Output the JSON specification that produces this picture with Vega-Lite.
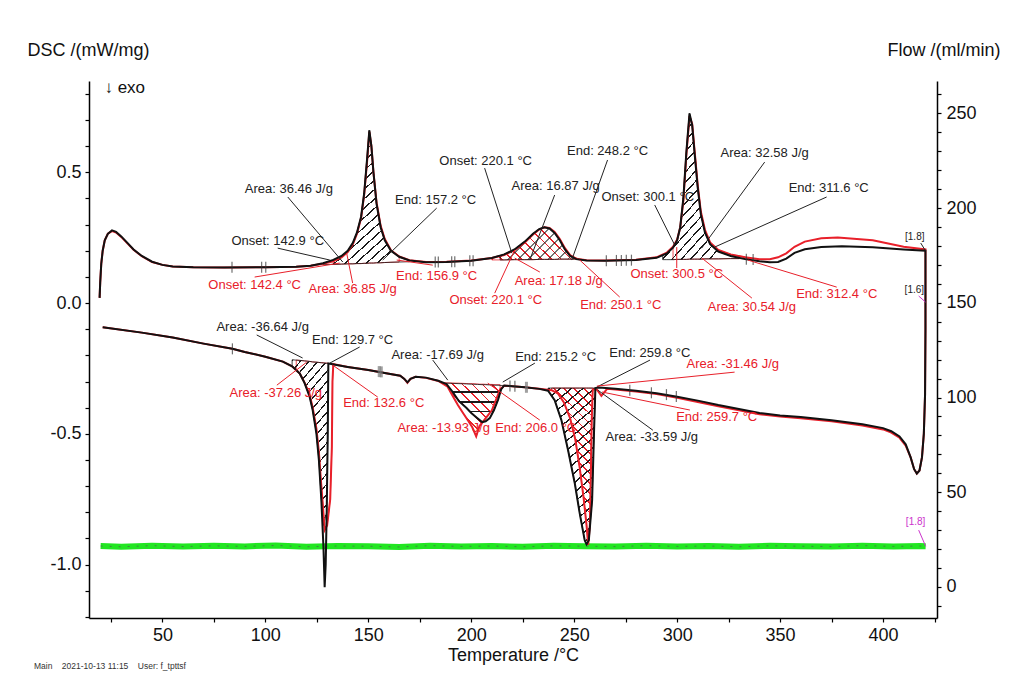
{
"$schema": "https://vega.github.io/schema/vega-lite/v6.json",
"width": 848, "height": 537,
"autosize": {"type": "none"},
"padding": {"left": 89, "top": 81, "right": 73, "bottom": 62},
"background": "white",
"config": {
 "view": {"stroke": null},
 "font": "Liberation Sans",
 "axis": {"domainColor": "#000", "domainWidth": 1.5, "tickColor": "#000", "tickWidth": 1.2, "tickSize": 4, "labelFont": "Liberation Sans", "labelFontSize": 18, "labelColor": "#111", "titleFont": "Liberation Sans", "titleFontSize": 18, "titleFontWeight": "normal", "titleColor": "#111", "grid": false, "labelPadding": 4}
},
"title": {"text": "Main\u00a0\u00a0\u00a0\u00a02021-10-13 11:15\u00a0\u00a0\u00a0\u00a0User: f_tpttsf", "orient": "bottom", "anchor": "start", "frame": "group", "fontSize": 8.5, "fontWeight": "normal", "font": "Liberation Sans", "color": "#333", "dx": -55, "offset": -2},
"encoding": {
 "x": {"field": "t", "type": "quantitative", "title": "Temperature /°C", "scale": {"domain": [14.35, 426.2], "nice": false, "zero": false},
  "axis": {"values": [25,50,75,100,125,150,175,200,225,250,275,300,325,350,375,400,425], "labelExpr": "datum.value % 50 == 0 ? datum.label : ''", "labelOverlap": false, "labelFlush": false, "titleY": 37, "titleBaseline": "middle"}}
},
"datasets": {
 "curve": [
  {"r":"B","i":1,"t":19.5,"v":0.02},{"r":"B","i":2,"t":19.8,"v":0.08},{"r":"B","i":3,"t":20.3,"v":0.15},{"r":"B","i":4,"t":21,"v":0.2},{"r":"B","i":5,"t":22,"v":0.24},{"r":"B","i":6,"t":23.5,"v":0.265},{"r":"B","i":7,"t":25.5,"v":0.278},{"r":"B","i":8,"t":27.5,"v":0.272},{"r":"B","i":9,"t":30,"v":0.255},{"r":"B","i":10,"t":33,"v":0.23},
  {"r":"B","i":11,"t":36,"v":0.205},{"r":"B","i":12,"t":40,"v":0.18},{"r":"B","i":13,"t":45,"v":0.158},{"r":"B","i":14,"t":50,"v":0.146},{"r":"B","i":15,"t":55,"v":0.14},{"r":"B","i":16,"t":65,"v":0.137},{"r":"B","i":17,"t":80,"v":0.136},{"r":"B","i":18,"t":100,"v":0.137},{"r":"B","i":19,"t":115,"v":0.139},{"r":"B","i":20,"t":122,"v":0.143},
  {"r":"B","i":21,"t":128,"v":0.152},{"r":"B","i":22,"t":133,"v":0.165},{"r":"B","i":23,"t":137,"v":0.18},{"r":"B","i":24,"t":140,"v":0.2},{"r":"B","i":25,"t":142.5,"v":0.23},{"r":"B","i":26,"t":144.5,"v":0.27},{"r":"B","i":27,"t":146.5,"v":0.33},{"r":"B","i":28,"t":148,"v":0.42},{"r":"B","i":29,"t":149.5,"v":0.56},{"r":"B","i":30,"t":150.5,"v":0.66},
  {"r":"B","i":31,"t":151.5,"v":0.6},{"r":"B","i":32,"t":152.5,"v":0.5},{"r":"B","i":33,"t":154,"v":0.38},{"r":"B","i":34,"t":156,"v":0.29},{"r":"B","i":35,"t":158,"v":0.24},{"r":"B","i":36,"t":161,"v":0.2},{"r":"B","i":37,"t":165,"v":0.177},{"r":"B","i":38,"t":170,"v":0.163},{"r":"B","i":39,"t":178,"v":0.156},{"r":"B","i":40,"t":188,"v":0.157},
  {"r":"B","i":41,"t":200,"v":0.162},{"r":"B","i":42,"t":210,"v":0.172},{"r":"B","i":43,"t":216,"v":0.186},{"r":"B","i":44,"t":221,"v":0.205},{"r":"B","i":45,"t":226,"v":0.235},{"r":"B","i":46,"t":230,"v":0.265},{"r":"B","i":47,"t":233,"v":0.283},{"r":"B","i":48,"t":235.5,"v":0.29},{"r":"B","i":49,"t":238,"v":0.285},{"r":"B","i":50,"t":240.5,"v":0.268},
  {"r":"B","i":51,"t":243,"v":0.24},{"r":"B","i":52,"t":245.5,"v":0.205},{"r":"B","i":53,"t":248,"v":0.18},{"r":"B","i":54,"t":251,"v":0.168},{"r":"B","i":55,"t":256,"v":0.163},{"r":"B","i":56,"t":265,"v":0.162},{"r":"B","i":57,"t":280,"v":0.165},{"r":"B","i":58,"t":290,"v":0.173},{"r":"B","i":59,"t":295,"v":0.19},{"r":"B","i":60,"t":298,"v":0.212},
  {"r":"B","i":61,"t":300,"v":0.24},{"r":"B","i":62,"t":301.5,"v":0.29},{"r":"B","i":63,"t":303,"v":0.4},{"r":"B","i":64,"t":304.5,"v":0.58},{"r":"B","i":65,"t":306,"v":0.725},{"r":"B","i":66,"t":307.3,"v":0.68},{"r":"B","i":67,"t":308.5,"v":0.57},{"r":"B","i":68,"t":310,"v":0.44},{"r":"B","i":69,"t":311.5,"v":0.34},{"r":"B","i":70,"t":313.5,"v":0.27},
  {"r":"B","i":71,"t":316,"v":0.225},{"r":"B","i":72,"t":320,"v":0.197},{"r":"B","i":73,"t":326,"v":0.18},{"r":"B","i":74,"t":333,"v":0.168},{"r":"B","i":75,"t":340,"v":0.16},{"r":"B","i":76,"t":345,"v":0.156},{"r":"B","i":77,"t":349,"v":0.157},{"r":"B","i":78,"t":353,"v":0.17},{"r":"B","i":79,"t":357,"v":0.192},{"r":"B","i":80,"t":362,"v":0.206},
  {"r":"B","i":81,"t":370,"v":0.214},{"r":"B","i":82,"t":380,"v":0.217},{"r":"B","i":83,"t":395,"v":0.213},{"r":"B","i":84,"t":410,"v":0.205},{"r":"B","i":85,"t":420.6,"v":0.2},
  {"r":"B","i":86,"t":420.6,"v":0.2},{"r":"B","i":87,"t":420.6,"v":-0.1},{"r":"B","i":88,"t":420.4,"v":-0.35},{"r":"B","i":89,"t":419.8,"v":-0.5},{"r":"B","i":90,"t":418.9,"v":-0.59},{"r":"B","i":91,"t":417.7,"v":-0.64},{"r":"B","i":92,"t":416.4,"v":-0.652},{"r":"B","i":93,"t":415.1,"v":-0.635},{"r":"B","i":94,"t":413.4,"v":-0.59},{"r":"B","i":95,"t":411,"v":-0.54},
  {"r":"B","i":96,"t":408,"v":-0.51},{"r":"B","i":97,"t":404,"v":-0.49},{"r":"B","i":98,"t":400,"v":-0.478},{"r":"B","i":99,"t":390,"v":-0.463},{"r":"B","i":100,"t":375,"v":-0.448},{"r":"B","i":101,"t":360,"v":-0.436},{"r":"B","i":102,"t":350,"v":-0.43},{"r":"B","i":103,"t":340,"v":-0.42},{"r":"B","i":104,"t":330,"v":-0.405},{"r":"B","i":105,"t":320,"v":-0.39},
  {"r":"B","i":106,"t":310,"v":-0.373},{"r":"B","i":107,"t":300,"v":-0.358},{"r":"B","i":108,"t":290,"v":-0.345},{"r":"B","i":109,"t":280,"v":-0.335},{"r":"B","i":110,"t":270,"v":-0.328},{"r":"B","i":111,"t":262,"v":-0.323},{"r":"B","i":112,"t":260.3,"v":-0.325},{"r":"B","i":113,"t":259.6,"v":-0.5},{"r":"B","i":114,"t":258.7,"v":-0.755},{"r":"B","i":115,"t":257.1,"v":-0.907},
  {"r":"B","i":116,"t":256,"v":-0.922},{"r":"B","i":117,"t":255.1,"v":-0.907},{"r":"B","i":118,"t":252.7,"v":-0.805},{"r":"B","i":119,"t":250.3,"v":-0.69},{"r":"B","i":120,"t":247,"v":-0.562},{"r":"B","i":121,"t":243.8,"v":-0.448},{"r":"B","i":122,"t":240.5,"v":-0.371},{"r":"B","i":123,"t":237.3,"v":-0.335},{"r":"B","i":124,"t":233,"v":-0.328},{"r":"B","i":125,"t":226,"v":-0.322},
  {"r":"B","i":126,"t":220,"v":-0.318},{"r":"B","i":127,"t":216,"v":-0.315},{"r":"B","i":128,"t":214.5,"v":-0.33},{"r":"B","i":129,"t":213,"v":-0.37},{"r":"B","i":130,"t":211,"v":-0.41},{"r":"B","i":131,"t":209,"v":-0.44},{"r":"B","i":132,"t":207,"v":-0.452},{"r":"B","i":133,"t":205.3,"v":-0.455},{"r":"B","i":134,"t":203,"v":-0.44},{"r":"B","i":135,"t":200,"v":-0.42},
  {"r":"B","i":136,"t":197.6,"v":-0.4},{"r":"B","i":137,"t":194,"v":-0.375},{"r":"B","i":138,"t":191,"v":-0.34},{"r":"B","i":139,"t":188,"v":-0.31},{"r":"B","i":140,"t":184,"v":-0.297},{"r":"B","i":141,"t":178,"v":-0.285},{"r":"B","i":142,"t":173,"v":-0.282},{"r":"B","i":143,"t":170.5,"v":-0.29},{"r":"B","i":144,"t":169,"v":-0.303},{"r":"B","i":145,"t":167.5,"v":-0.29},
  {"r":"B","i":146,"t":165.5,"v":-0.278},{"r":"B","i":147,"t":160,"v":-0.27},{"r":"B","i":148,"t":150,"v":-0.256},{"r":"B","i":149,"t":140,"v":-0.244},{"r":"B","i":150,"t":132,"v":-0.233},{"r":"B","i":151,"t":130.6,"v":-0.231},{"r":"B","i":152,"t":130.3,"v":-0.5},{"r":"B","i":153,"t":129.8,"v":-0.8},{"r":"B","i":154,"t":129.3,"v":-1.0},{"r":"B","i":155,"t":128.8,"v":-1.086},
  {"r":"B","i":156,"t":128.2,"v":-0.93},{"r":"B","i":157,"t":127.2,"v":-0.754},{"r":"B","i":158,"t":126,"v":-0.6},{"r":"B","i":159,"t":124.8,"v":-0.499},{"r":"B","i":160,"t":123,"v":-0.41},{"r":"B","i":161,"t":121.5,"v":-0.358},{"r":"B","i":162,"t":119,"v":-0.305},{"r":"B","i":163,"t":116.7,"v":-0.269},{"r":"B","i":164,"t":113,"v":-0.242},{"r":"B","i":165,"t":108.5,"v":-0.224},
  {"r":"B","i":166,"t":100,"v":-0.205},{"r":"B","i":167,"t":90,"v":-0.187},{"r":"B","i":168,"t":84,"v":-0.175},{"r":"B","i":169,"t":70,"v":-0.155},{"r":"B","i":170,"t":55,"v":-0.132},{"r":"B","i":171,"t":40,"v":-0.113},{"r":"B","i":172,"t":21,"v":-0.092},

  {"r":"R","i":1,"t":19.5,"v":0.02},{"r":"R","i":2,"t":19.8,"v":0.08},{"r":"R","i":3,"t":20.3,"v":0.15},{"r":"R","i":4,"t":21,"v":0.2},{"r":"R","i":5,"t":22,"v":0.24},{"r":"R","i":6,"t":23.5,"v":0.265},{"r":"R","i":7,"t":25.5,"v":0.275},{"r":"R","i":8,"t":27.5,"v":0.27},{"r":"R","i":9,"t":30,"v":0.253},{"r":"R","i":10,"t":33,"v":0.228},
  {"r":"R","i":11,"t":36,"v":0.204},{"r":"R","i":12,"t":40,"v":0.179},{"r":"R","i":13,"t":45,"v":0.157},{"r":"R","i":14,"t":50,"v":0.146},{"r":"R","i":15,"t":55,"v":0.14},{"r":"R","i":16,"t":65,"v":0.137},{"r":"R","i":17,"t":80,"v":0.136},{"r":"R","i":18,"t":100,"v":0.137},{"r":"R","i":19,"t":115,"v":0.139},{"r":"R","i":20,"t":122,"v":0.143},
  {"r":"R","i":21,"t":128,"v":0.15},{"r":"R","i":22,"t":133,"v":0.16},{"r":"R","i":23,"t":137,"v":0.175},{"r":"R","i":24,"t":140,"v":0.195},{"r":"R","i":25,"t":142.5,"v":0.225},{"r":"R","i":26,"t":144.5,"v":0.265},{"r":"R","i":27,"t":146.5,"v":0.325},{"r":"R","i":28,"t":148,"v":0.415},{"r":"R","i":29,"t":149.5,"v":0.55},{"r":"R","i":30,"t":150.5,"v":0.655},
  {"r":"R","i":31,"t":151.5,"v":0.6},{"r":"R","i":32,"t":152.5,"v":0.5},{"r":"R","i":33,"t":154,"v":0.385},{"r":"R","i":34,"t":156,"v":0.295},{"r":"R","i":35,"t":158,"v":0.245},{"r":"R","i":36,"t":161,"v":0.202},{"r":"R","i":37,"t":165,"v":0.178},{"r":"R","i":38,"t":170,"v":0.164},{"r":"R","i":39,"t":178,"v":0.157},{"r":"R","i":40,"t":188,"v":0.158},
  {"r":"R","i":41,"t":200,"v":0.163},{"r":"R","i":42,"t":210,"v":0.172},{"r":"R","i":43,"t":216,"v":0.184},{"r":"R","i":44,"t":221,"v":0.202},{"r":"R","i":45,"t":226,"v":0.232},{"r":"R","i":46,"t":230,"v":0.262},{"r":"R","i":47,"t":233,"v":0.281},{"r":"R","i":48,"t":235.5,"v":0.29},{"r":"R","i":49,"t":238,"v":0.287},{"r":"R","i":50,"t":240.5,"v":0.272},
  {"r":"R","i":51,"t":243,"v":0.245},{"r":"R","i":52,"t":245.5,"v":0.21},{"r":"R","i":53,"t":248,"v":0.183},{"r":"R","i":54,"t":251,"v":0.169},{"r":"R","i":55,"t":256,"v":0.164},{"r":"R","i":56,"t":265,"v":0.163},{"r":"R","i":57,"t":280,"v":0.166},{"r":"R","i":58,"t":290,"v":0.175},{"r":"R","i":59,"t":295,"v":0.193},{"r":"R","i":60,"t":298,"v":0.215},
  {"r":"R","i":61,"t":300,"v":0.243},{"r":"R","i":62,"t":301.5,"v":0.29},{"r":"R","i":63,"t":303,"v":0.39},{"r":"R","i":64,"t":304.5,"v":0.57},{"r":"R","i":65,"t":306,"v":0.715},{"r":"R","i":66,"t":307.3,"v":0.685},{"r":"R","i":67,"t":308.5,"v":0.58},{"r":"R","i":68,"t":310,"v":0.45},{"r":"R","i":69,"t":311.5,"v":0.35},{"r":"R","i":70,"t":313.5,"v":0.28},
  {"r":"R","i":71,"t":316,"v":0.232},{"r":"R","i":72,"t":320,"v":0.203},{"r":"R","i":73,"t":326,"v":0.186},{"r":"R","i":74,"t":333,"v":0.175},{"r":"R","i":75,"t":340,"v":0.168},{"r":"R","i":76,"t":345,"v":0.168},{"r":"R","i":77,"t":349,"v":0.175},{"r":"R","i":78,"t":353,"v":0.19},{"r":"R","i":79,"t":357,"v":0.215},{"r":"R","i":80,"t":362,"v":0.235},
  {"r":"R","i":81,"t":370,"v":0.248},{"r":"R","i":82,"t":378,"v":0.251},{"r":"R","i":83,"t":395,"v":0.24},{"r":"R","i":84,"t":410,"v":0.215},{"r":"R","i":85,"t":420.6,"v":0.205},
  {"r":"R","i":86,"t":420.6,"v":0.205},{"r":"R","i":87,"t":420.6,"v":-0.1},{"r":"R","i":88,"t":420.4,"v":-0.35},{"r":"R","i":89,"t":419.8,"v":-0.5},{"r":"R","i":90,"t":418.9,"v":-0.59},{"r":"R","i":91,"t":417.7,"v":-0.64},{"r":"R","i":92,"t":416.4,"v":-0.652},{"r":"R","i":93,"t":415.1,"v":-0.635},{"r":"R","i":94,"t":413.4,"v":-0.59},{"r":"R","i":95,"t":411,"v":-0.545},
  {"r":"R","i":96,"t":408,"v":-0.515},{"r":"R","i":97,"t":404,"v":-0.495},{"r":"R","i":98,"t":400,"v":-0.483},{"r":"R","i":99,"t":390,"v":-0.468},{"r":"R","i":100,"t":375,"v":-0.452},{"r":"R","i":101,"t":360,"v":-0.44},{"r":"R","i":102,"t":350,"v":-0.434},{"r":"R","i":103,"t":340,"v":-0.425},{"r":"R","i":104,"t":330,"v":-0.41},{"r":"R","i":105,"t":320,"v":-0.395},
  {"r":"R","i":106,"t":310,"v":-0.378},{"r":"R","i":107,"t":300,"v":-0.362},{"r":"R","i":108,"t":290,"v":-0.348},{"r":"R","i":109,"t":280,"v":-0.338},{"r":"R","i":110,"t":270,"v":-0.33},{"r":"R","i":111,"t":266,"v":-0.328},{"r":"R","i":112,"t":263.2,"v":-0.355},{"r":"R","i":113,"t":261,"v":-0.33},{"r":"R","i":114,"t":259,"v":-0.33},{"r":"R","i":115,"t":258.5,"v":-0.45},
  {"r":"R","i":116,"t":258.2,"v":-0.6},{"r":"R","i":117,"t":257.6,"v":-0.85},{"r":"R","i":118,"t":256.8,"v":-0.925},{"r":"R","i":119,"t":256,"v":-0.85},{"r":"R","i":120,"t":254.5,"v":-0.74},{"r":"R","i":121,"t":252.5,"v":-0.62},{"r":"R","i":122,"t":250.5,"v":-0.52},{"r":"R","i":123,"t":248,"v":-0.44},{"r":"R","i":124,"t":245,"v":-0.38},{"r":"R","i":125,"t":242,"v":-0.345},
  {"r":"R","i":126,"t":239,"v":-0.333},{"r":"R","i":127,"t":233,"v":-0.328},{"r":"R","i":128,"t":226,"v":-0.322},{"r":"R","i":129,"t":220,"v":-0.318},{"r":"R","i":130,"t":216,"v":-0.316},{"r":"R","i":131,"t":214,"v":-0.33},{"r":"R","i":132,"t":212,"v":-0.37},{"r":"R","i":133,"t":210,"v":-0.41},{"r":"R","i":134,"t":208,"v":-0.43},{"r":"R","i":135,"t":206,"v":-0.45},
  {"r":"R","i":136,"t":204,"v":-0.47},{"r":"R","i":137,"t":202.4,"v":-0.51},{"r":"R","i":138,"t":200.5,"v":-0.475},{"r":"R","i":139,"t":198.5,"v":-0.45},{"r":"R","i":140,"t":196,"v":-0.42},{"r":"R","i":141,"t":193.5,"v":-0.39},{"r":"R","i":142,"t":191,"v":-0.355},{"r":"R","i":143,"t":188.5,"v":-0.32},{"r":"R","i":144,"t":184,"v":-0.298},{"r":"R","i":145,"t":178,"v":-0.286},
  {"r":"R","i":146,"t":173,"v":-0.282},{"r":"R","i":147,"t":170.5,"v":-0.29},{"r":"R","i":148,"t":169,"v":-0.305},{"r":"R","i":149,"t":167.5,"v":-0.29},{"r":"R","i":150,"t":165.5,"v":-0.278},{"r":"R","i":151,"t":160,"v":-0.27},{"r":"R","i":152,"t":150,"v":-0.256},{"r":"R","i":153,"t":140,"v":-0.244},{"r":"R","i":154,"t":134,"v":-0.235},{"r":"R","i":155,"t":133,"v":-0.233},
  {"r":"R","i":156,"t":132.6,"v":-0.3},{"r":"R","i":157,"t":132.3,"v":-0.55},{"r":"R","i":158,"t":131.5,"v":-0.75},{"r":"R","i":159,"t":130,"v":-0.85},{"r":"R","i":160,"t":128.8,"v":-0.868},{"r":"R","i":161,"t":128,"v":-0.78},{"r":"R","i":162,"t":127,"v":-0.68},{"r":"R","i":163,"t":126,"v":-0.57},{"r":"R","i":164,"t":124.8,"v":-0.48},{"r":"R","i":165,"t":123,"v":-0.4},
  {"r":"R","i":166,"t":121.5,"v":-0.35},{"r":"R","i":167,"t":119,"v":-0.303},{"r":"R","i":168,"t":116.7,"v":-0.269},{"r":"R","i":169,"t":113,"v":-0.242},{"r":"R","i":170,"t":108.5,"v":-0.224},{"r":"R","i":171,"t":100,"v":-0.205},{"r":"R","i":172,"t":90,"v":-0.187},{"r":"R","i":173,"t":84,"v":-0.175},{"r":"R","i":174,"t":70,"v":-0.155},{"r":"R","i":175,"t":55,"v":-0.132},
  {"r":"R","i":176,"t":40,"v":-0.113},{"r":"R","i":177,"t":21,"v":-0.092}
 ],
 "area": [
  {"g":"A1","r":"B","t":128,"v":0.152,"b":0.147},{"g":"A1","r":"B","t":133,"v":0.165,"b":0.148},{"g":"A1","r":"B","t":137,"v":0.18,"b":0.149},{"g":"A1","r":"B","t":140,"v":0.2,"b":0.15},{"g":"A1","r":"B","t":142.5,"v":0.23,"b":0.15},{"g":"A1","r":"B","t":144.5,"v":0.27,"b":0.151},{"g":"A1","r":"B","t":146.5,"v":0.33,"b":0.151},{"g":"A1","r":"B","t":148,"v":0.42,"b":0.152},{"g":"A1","r":"B","t":149.5,"v":0.56,"b":0.152},{"g":"A1","r":"B","t":150.5,"v":0.66,"b":0.153},{"g":"A1","r":"B","t":151.5,"v":0.6,"b":0.153},{"g":"A1","r":"B","t":152.5,"v":0.5,"b":0.153},{"g":"A1","r":"B","t":154,"v":0.38,"b":0.154},{"g":"A1","r":"B","t":156,"v":0.29,"b":0.154},{"g":"A1","r":"B","t":158,"v":0.24,"b":0.155},{"g":"A1","r":"B","t":161,"v":0.2,"b":0.156},{"g":"A1","r":"B","t":165,"v":0.177,"b":0.157},{"g":"A1","r":"B","t":170,"v":0.163,"b":0.158},
  {"g":"A1","r":"R","t":133,"v":0.16,"b":0.148},{"g":"A1","r":"R","t":137,"v":0.175,"b":0.149},{"g":"A1","r":"R","t":140,"v":0.195,"b":0.15},{"g":"A1","r":"R","t":142.5,"v":0.225,"b":0.15},{"g":"A1","r":"R","t":144.5,"v":0.265,"b":0.151},{"g":"A1","r":"R","t":146.5,"v":0.325,"b":0.151},{"g":"A1","r":"R","t":148,"v":0.415,"b":0.152},{"g":"A1","r":"R","t":149.5,"v":0.55,"b":0.152},{"g":"A1","r":"R","t":150.5,"v":0.655,"b":0.153},{"g":"A1","r":"R","t":151.5,"v":0.6,"b":0.153},{"g":"A1","r":"R","t":152.5,"v":0.5,"b":0.153},{"g":"A1","r":"R","t":154,"v":0.385,"b":0.154},{"g":"A1","r":"R","t":156,"v":0.295,"b":0.154},{"g":"A1","r":"R","t":158,"v":0.245,"b":0.155},{"g":"A1","r":"R","t":161,"v":0.202,"b":0.156},{"g":"A1","r":"R","t":165,"v":0.178,"b":0.157},
  {"g":"A2","r":"B","t":214,"v":0.18,"b":0.165},{"g":"A2","r":"B","t":216,"v":0.186,"b":0.165},{"g":"A2","r":"B","t":221,"v":0.205,"b":0.166},{"g":"A2","r":"B","t":226,"v":0.235,"b":0.166},{"g":"A2","r":"B","t":230,"v":0.265,"b":0.166},{"g":"A2","r":"B","t":233,"v":0.283,"b":0.167},{"g":"A2","r":"B","t":235.5,"v":0.29,"b":0.167},{"g":"A2","r":"B","t":238,"v":0.285,"b":0.167},{"g":"A2","r":"B","t":240.5,"v":0.268,"b":0.167},{"g":"A2","r":"B","t":243,"v":0.24,"b":0.168},{"g":"A2","r":"B","t":245.5,"v":0.205,"b":0.168},{"g":"A2","r":"B","t":248,"v":0.18,"b":0.168},{"g":"A2","r":"B","t":250,"v":0.17,"b":0.168},
  {"g":"A2","r":"R","t":210,"v":0.172,"b":0.165},{"g":"A2","r":"R","t":216,"v":0.184,"b":0.165},{"g":"A2","r":"R","t":221,"v":0.202,"b":0.166},{"g":"A2","r":"R","t":226,"v":0.232,"b":0.166},{"g":"A2","r":"R","t":230,"v":0.262,"b":0.166},{"g":"A2","r":"R","t":233,"v":0.281,"b":0.167},{"g":"A2","r":"R","t":235.5,"v":0.29,"b":0.167},{"g":"A2","r":"R","t":238,"v":0.287,"b":0.167},{"g":"A2","r":"R","t":240.5,"v":0.272,"b":0.167},{"g":"A2","r":"R","t":243,"v":0.245,"b":0.168},{"g":"A2","r":"R","t":245.5,"v":0.21,"b":0.168},{"g":"A2","r":"R","t":248,"v":0.183,"b":0.168},{"g":"A2","r":"R","t":252,"v":0.169,"b":0.168},
  {"g":"A3","r":"B","t":293,"v":0.183,"b":0.166},{"g":"A3","r":"B","t":295,"v":0.19,"b":0.166},{"g":"A3","r":"B","t":298,"v":0.212,"b":0.166},{"g":"A3","r":"B","t":300,"v":0.24,"b":0.167},{"g":"A3","r":"B","t":301.5,"v":0.29,"b":0.167},{"g":"A3","r":"B","t":303,"v":0.4,"b":0.167},{"g":"A3","r":"B","t":304.5,"v":0.58,"b":0.167},{"g":"A3","r":"B","t":306,"v":0.725,"b":0.168},{"g":"A3","r":"B","t":307.3,"v":0.68,"b":0.168},{"g":"A3","r":"B","t":308.5,"v":0.57,"b":0.168},{"g":"A3","r":"B","t":310,"v":0.44,"b":0.168},{"g":"A3","r":"B","t":311.5,"v":0.34,"b":0.168},{"g":"A3","r":"B","t":313.5,"v":0.27,"b":0.169},{"g":"A3","r":"B","t":316,"v":0.225,"b":0.169},{"g":"A3","r":"B","t":320,"v":0.197,"b":0.169},{"g":"A3","r":"B","t":326,"v":0.18,"b":0.17},{"g":"A3","r":"B","t":330,"v":0.174,"b":0.17},
  {"g":"A3","r":"R","t":298,"v":0.215,"b":0.166},{"g":"A3","r":"R","t":300,"v":0.243,"b":0.167},{"g":"A3","r":"R","t":301.5,"v":0.29,"b":0.167},{"g":"A3","r":"R","t":303,"v":0.39,"b":0.167},{"g":"A3","r":"R","t":304.5,"v":0.57,"b":0.167},{"g":"A3","r":"R","t":306,"v":0.715,"b":0.168},{"g":"A3","r":"R","t":307.3,"v":0.685,"b":0.168},{"g":"A3","r":"R","t":308.5,"v":0.58,"b":0.168},{"g":"A3","r":"R","t":310,"v":0.45,"b":0.168},{"g":"A3","r":"R","t":311.5,"v":0.35,"b":0.168},{"g":"A3","r":"R","t":313.5,"v":0.28,"b":0.169},{"g":"A3","r":"R","t":316,"v":0.232,"b":0.169},{"g":"A3","r":"R","t":320,"v":0.203,"b":0.169},{"g":"A3","r":"R","t":326,"v":0.186,"b":0.17},{"g":"A3","r":"R","t":335,"v":0.173,"b":0.17},
  {"g":"B1","r":"B","t":113,"v":-0.242,"b":-0.217},{"g":"B1","r":"B","t":116.7,"v":-0.269,"b":-0.219},{"g":"B1","r":"B","t":119,"v":-0.305,"b":-0.221},{"g":"B1","r":"B","t":121.5,"v":-0.358,"b":-0.223},{"g":"B1","r":"B","t":123,"v":-0.41,"b":-0.225},{"g":"B1","r":"B","t":124.8,"v":-0.499,"b":-0.226},{"g":"B1","r":"B","t":126,"v":-0.6,"b":-0.227},{"g":"B1","r":"B","t":127.2,"v":-0.754,"b":-0.228},{"g":"B1","r":"B","t":128.2,"v":-0.85,"b":-0.229},{"g":"B1","r":"B","t":129.8,"v":-0.8,"b":-0.23},{"g":"B1","r":"B","t":130.3,"v":-0.5,"b":-0.231},{"g":"B1","r":"B","t":130.6,"v":-0.231,"b":-0.231},
  {"g":"B1","r":"R","t":115,"v":-0.25,"b":-0.218},{"g":"B1","r":"R","t":119,"v":-0.303,"b":-0.221},{"g":"B1","r":"R","t":121.5,"v":-0.35,"b":-0.223},{"g":"B1","r":"R","t":123,"v":-0.4,"b":-0.225},{"g":"B1","r":"R","t":124.8,"v":-0.48,"b":-0.226},{"g":"B1","r":"R","t":126,"v":-0.57,"b":-0.227},{"g":"B1","r":"R","t":127,"v":-0.68,"b":-0.228},{"g":"B1","r":"R","t":128,"v":-0.78,"b":-0.228},{"g":"B1","r":"R","t":128.8,"v":-0.868,"b":-0.229},{"g":"B1","r":"R","t":130,"v":-0.85,"b":-0.23},{"g":"B1","r":"R","t":131.5,"v":-0.75,"b":-0.231},{"g":"B1","r":"R","t":132.3,"v":-0.55,"b":-0.232},{"g":"B1","r":"R","t":132.6,"v":-0.3,"b":-0.232},{"g":"B1","r":"R","t":133,"v":-0.233,"b":-0.232},
  {"g":"B2","r":"B","t":188,"v":-0.31,"b":-0.306},{"g":"B2","r":"B","t":191,"v":-0.34,"b":-0.307},{"g":"B2","r":"B","t":194,"v":-0.375,"b":-0.308},{"g":"B2","r":"B","t":197.6,"v":-0.4,"b":-0.309},{"g":"B2","r":"B","t":200,"v":-0.42,"b":-0.31},{"g":"B2","r":"B","t":203,"v":-0.44,"b":-0.311},{"g":"B2","r":"B","t":205.3,"v":-0.455,"b":-0.312},{"g":"B2","r":"B","t":207,"v":-0.452,"b":-0.312},{"g":"B2","r":"B","t":209,"v":-0.44,"b":-0.313},{"g":"B2","r":"B","t":211,"v":-0.41,"b":-0.314},{"g":"B2","r":"B","t":213,"v":-0.37,"b":-0.314},{"g":"B2","r":"B","t":214.5,"v":-0.33,"b":-0.315},{"g":"B2","r":"B","t":216,"v":-0.315,"b":-0.315},
  {"g":"B2","r":"R","t":187,"v":-0.31,"b":-0.304},{"g":"B2","r":"R","t":188.5,"v":-0.32,"b":-0.305},{"g":"B2","r":"R","t":191,"v":-0.355,"b":-0.306},{"g":"B2","r":"R","t":193.5,"v":-0.39,"b":-0.306},{"g":"B2","r":"R","t":196,"v":-0.42,"b":-0.307},{"g":"B2","r":"R","t":198.5,"v":-0.45,"b":-0.308},{"g":"B2","r":"R","t":200.5,"v":-0.475,"b":-0.308},{"g":"B2","r":"R","t":202.4,"v":-0.51,"b":-0.309},{"g":"B2","r":"R","t":204,"v":-0.47,"b":-0.31},{"g":"B2","r":"R","t":206,"v":-0.45,"b":-0.31},{"g":"B2","r":"R","t":208,"v":-0.43,"b":-0.311},{"g":"B2","r":"R","t":210,"v":-0.41,"b":-0.311},{"g":"B2","r":"R","t":212,"v":-0.37,"b":-0.312},{"g":"B2","r":"R","t":214,"v":-0.33,"b":-0.312},
  {"g":"B3","r":"B","t":237.3,"v":-0.335,"b":-0.325},{"g":"B3","r":"B","t":240.5,"v":-0.371,"b":-0.325},{"g":"B3","r":"B","t":243.8,"v":-0.448,"b":-0.325},{"g":"B3","r":"B","t":247,"v":-0.562,"b":-0.325},{"g":"B3","r":"B","t":250.3,"v":-0.69,"b":-0.325},{"g":"B3","r":"B","t":252.7,"v":-0.805,"b":-0.325},{"g":"B3","r":"B","t":255.1,"v":-0.907,"b":-0.325},{"g":"B3","r":"B","t":256,"v":-0.922,"b":-0.325},{"g":"B3","r":"B","t":257.1,"v":-0.907,"b":-0.325},{"g":"B3","r":"B","t":258.7,"v":-0.755,"b":-0.325},{"g":"B3","r":"B","t":259.6,"v":-0.5,"b":-0.325},{"g":"B3","r":"B","t":260.3,"v":-0.325,"b":-0.325},
  {"g":"B3","r":"R","t":239,"v":-0.333,"b":-0.325},{"g":"B3","r":"R","t":242,"v":-0.345,"b":-0.325},{"g":"B3","r":"R","t":245,"v":-0.38,"b":-0.325},{"g":"B3","r":"R","t":248,"v":-0.44,"b":-0.325},{"g":"B3","r":"R","t":250.5,"v":-0.52,"b":-0.325},{"g":"B3","r":"R","t":252.5,"v":-0.62,"b":-0.325},{"g":"B3","r":"R","t":254.5,"v":-0.74,"b":-0.325},{"g":"B3","r":"R","t":256,"v":-0.85,"b":-0.325},{"g":"B3","r":"R","t":256.8,"v":-0.925,"b":-0.325},{"g":"B3","r":"R","t":257.6,"v":-0.85,"b":-0.325},{"g":"B3","r":"R","t":258.2,"v":-0.6,"b":-0.325},{"g":"B3","r":"R","t":258.5,"v":-0.45,"b":-0.325},{"g":"B3","r":"R","t":259,"v":-0.33,"b":-0.325}
 ],
 "labels": [
  {"r":"B","t":111.4,"v":0.436,"label":"Area: 36.46 J/g"},
  {"r":"B","t":106.0,"v":0.237,"label":"Onset: 142.9 °C"},
  {"r":"B","t":182.7,"v":0.394,"label":"End: 157.2 °C"},
  {"r":"B","t":207.0,"v":0.543,"label":"Onset: 220.1 °C"},
  {"r":"B","t":266.2,"v":0.5815,"label":"End: 248.2 °C"},
  {"r":"B","t":241.0,"v":0.4476,"label":"Area: 16.87 J/g"},
  {"r":"B","t":285.7,"v":0.4055,"label":"Onset: 300.1 °C"},
  {"r":"B","t":342.5,"v":0.5738,"label":"Area: 32.58 J/g"},
  {"r":"B","t":373.6,"v":0.44,"label":"End: 311.6 °C"},
  {"r":"B","t":98.7,"v":-0.0918,"label":"Area: -36.64 J/g"},
  {"r":"B","t":142.4,"v":-0.1415,"label":"End: 129.7 °C"},
  {"r":"B","t":183.7,"v":-0.199,"label":"Area: -17.69 J/g"},
  {"r":"B","t":241.0,"v":-0.2066,"label":"End: 215.2 °C"},
  {"r":"B","t":286.7,"v":-0.1913,"label":"End: 259.8 °C"},
  {"r":"B","t":287.7,"v":-0.5126,"label":"Area: -33.59 J/g"},
  {"r":"R","t":94.8,"v":0.0689,"label":"Onset: 142.4 °C"},
  {"r":"R","t":142.4,"v":0.0536,"label":"Area: 36.85 J/g"},
  {"r":"R","t":183.2,"v":0.1033,"label":"End: 156.9 °C"},
  {"r":"R","t":211.9,"v":0.0115,"label":"Onset: 220.1 °C"},
  {"r":"R","t":242.5,"v":0.0842,"label":"Area: 17.18 J/g"},
  {"r":"R","t":272.6,"v":-0.0077,"label":"End: 250.1 °C"},
  {"r":"R","t":299.8,"v":0.111,"label":"Onset: 300.5 °C"},
  {"r":"R","t":336.3,"v":-0.0153,"label":"Area: 30.54 J/g"},
  {"r":"R","t":377.5,"v":0.0344,"label":"End: 312.4 °C"},
  {"r":"R","t":105.1,"v":-0.3443,"label":"Area: -37.26 J/g"},
  {"r":"R","t":157.5,"v":-0.3826,"label":"End: 132.6 °C"},
  {"r":"R","t":186.6,"v":-0.4782,"label":"Area: -13.93 J/g"},
  {"r":"R","t":231.3,"v":-0.4782,"label":"End: 206.0 °C"},
  {"r":"R","t":327.0,"v":-0.2334,"label":"Area: -31.46 J/g"},
  {"r":"R","t":319.2,"v":-0.4361,"label":"End: 259.7 °C"}
 ],
 "leaders": [
  {"r":"B","t":110.9,"v":0.4055,"t2":137.6,"v2":0.157},
  {"r":"B","t":106.0,"v":0.21,"t2":131.3,"v2":0.1645},
  {"r":"B","t":183.2,"v":0.363,"t2":157.0,"v2":0.1645},
  {"r":"B","t":206.5,"v":0.516,"t2":219.7,"v2":0.191},
  {"r":"B","t":266.2,"v":0.547,"t2":248.8,"v2":0.1645},
  {"r":"B","t":240.5,"v":0.413,"t2":228.4,"v2":0.1645},
  {"r":"B","t":289.1,"v":0.375,"t2":298.8,"v2":0.222},
  {"r":"B","t":342.5,"v":0.539,"t2":311.9,"v2":0.21},
  {"r":"B","t":372.6,"v":0.4055,"t2":318.2,"v2":0.214},
  {"r":"B","t":95.8,"v":-0.122,"t2":118.1,"v2":-0.21},
  {"r":"B","t":145.8,"v":-0.168,"t2":131.3,"v2":-0.2295},
  {"r":"B","t":181.3,"v":-0.218,"t2":188.6,"v2":-0.2946},
  {"r":"B","t":230.9,"v":-0.2295,"t2":215.3,"v2":-0.302},
  {"r":"B","t":286.8,"v":-0.218,"t2":261.0,"v2":-0.321},
  {"r":"B","t":288.2,"v":-0.486,"t2":261.5,"v2":-0.333},
  {"r":"R","t":94.8,"v":0.0995,"t2":136.1,"v2":0.153},
  {"r":"R","t":142.4,"v":0.0765,"t2":139.5,"v2":0.191},
  {"r":"R","t":181.3,"v":0.145,"t2":163.8,"v2":0.1645},
  {"r":"R","t":211.4,"v":0.038,"t2":221.1,"v2":0.203},
  {"r":"R","t":233.3,"v":0.1186,"t2":221.1,"v2":0.172},
  {"r":"R","t":272.1,"v":0.023,"t2":252.7,"v2":0.1645},
  {"r":"R","t":299.8,"v":0.134,"t2":299.8,"v2":0.214},
  {"r":"R","t":336.3,"v":0.019,"t2":312.0,"v2":0.172},
  {"r":"R","t":377.5,"v":0.061,"t2":334.3,"v2":0.1645},
  {"r":"R","t":105.6,"v":-0.3137,"t2":120.1,"v2":-0.2257},
  {"r":"R","t":154.6,"v":-0.3596,"t2":132.7,"v2":-0.237},
  {"r":"R","t":208.0,"v":-0.306,"t2":233.3,"v2":-0.4476},
  {"r":"R","t":327.9,"v":-0.264,"t2":261.0,"v2":-0.3175},
  {"r":"R","t":306.2,"v":-0.409,"t2":263.5,"v2":-0.34},
  {"r":"B","t":418.3,"v":0.2295,"t2":420.6,"v2":0.2},
  {"r":"M","t":417.3,"v":0.027,"t2":420.6,"v2":0.004},
  {"r":"M","t":417.3,"v":-0.868,"t2":420.7,"v2":-0.93}
 ],
 "tags": [
  {"r":"B","t":415.4,"v":0.2525,"label":"[1.8]"},
  {"r":"B","t":415.2,"v":0.05,"label":"[1.6]"},
  {"r":"M","t":415.8,"v":-0.838,"label":"[1.8]"}
 ],
 "ticks": [
  {"k":"m","t":83.8,"v":0.137},{"k":"m","t":98.2,"v":0.137},{"k":"m","t":100.2,"v":0.137},{"k":"m","t":182.5,"v":0.157},{"k":"m","t":184,"v":0.157},{"k":"m","t":190.5,"v":0.158},{"k":"m","t":192,"v":0.158},{"k":"m","t":199.3,"v":0.162},{"k":"m","t":200.9,"v":0.162},
  {"k":"m","t":265.6,"v":0.162},{"k":"m","t":270.5,"v":0.163},{"k":"m","t":272.9,"v":0.163},{"k":"m","t":275.3,"v":0.164},{"k":"m","t":277.8,"v":0.164},{"k":"m","t":333.6,"v":0.168},{"k":"m","t":336.9,"v":0.167},
  {"k":"m","t":84,"v":-0.175},{"k":"g","t":155.3,"v":-0.262},{"k":"g","t":156.3,"v":-0.263},{"k":"m","t":218.8,"v":-0.317},{"k":"m","t":221.2,"v":-0.318},{"k":"g","t":226.8,"v":-0.322},{"k":"m","t":277,"v":-0.333},{"k":"m","t":287.5,"v":-0.343},{"k":"m","t":294.8,"v":-0.35},{"k":"m","t":299.6,"v":-0.357}
 ],
 "flow": [
  {"t":20,"f":21.6},{"t":30,"f":21.2},{"t":45,"f":21.8},{"t":60,"f":21.3},{"t":75,"f":21.7},{"t":90,"f":21.4},{"t":105,"f":21.9},{"t":120,"f":21.2},{"t":135,"f":21.6},{"t":150,"f":21.5},{"t":165,"f":21.1},{"t":180,"f":21.8},{"t":195,"f":21.4},{"t":210,"f":21.6},{"t":225,"f":21.2},{"t":240,"f":21.7},{"t":255,"f":21.5},{"t":270,"f":21.3},{"t":285,"f":21.8},{"t":300,"f":21.4},{"t":315,"f":21.6},{"t":330,"f":21.2},{"t":345,"f":21.7},{"t":360,"f":21.5},{"t":375,"f":21.3},{"t":390,"f":21.8},{"t":405,"f":21.4},{"t":418,"f":21.6},{"t":420.7,"f":21.5}
 ]
},
"layer": [
 {"data": {"name": "flow"},
  "mark": {"type": "line", "color": "#22e622", "strokeWidth": 6},
  "encoding": {
   "y": {"field": "f", "type": "quantitative", "scale": {"domain": [-16.4, 267.1], "nice": false, "zero": false},
    "axis": {"orient": "right", "values": [-10,0,10,20,30,40,50,60,70,80,90,100,110,120,130,140,150,160,170,180,190,200,210,220,230,240,250,260], "labelExpr": "datum.value % 50 == 0 ? datum.label : ''", "labelOverlap": false, "labelFlush": false, "labelPadding": 5, "title": "Flow /(ml/min)", "titleAngle": 0, "titleAlign": "right", "titleBaseline": "middle", "titleX": 63, "titleY": -31}}
  }},
 {"data": {"name": "flow"},
  "mark": {"type": "line", "color": "#555555", "strokeWidth": 1, "strokeDash": [2, 7], "opacity": 0.7},
  "encoding": {
   "y": {"field": "f", "type": "quantitative", "scale": {"domain": [-16.4, 267.1], "nice": false, "zero": false}, "axis": null}
  }},
 {"data": {"name": "area"},
  "transform": [{"filter": "datum.r == 'R' && datum.g != 'A2' && datum.g != 'B2' && datum.g != 'B3'"}],
  "mark": {"type": "area", "stroke": "#e8202a", "strokeWidth": 0.8, "fill": "transparent"},
  "encoding": {
   "y": {"field": "v", "type": "quantitative", "scale": {"domain": [-1.204, 0.849], "nice": false, "zero": false},
    "axis": {"orient": "left", "values": [-1.2,-1.1,-1.0,-0.9,-0.8,-0.7,-0.6,-0.5,-0.4,-0.3,-0.2,-0.1,0,0.1,0.2,0.3,0.4,0.5,0.6,0.7,0.8], "labelExpr": "abs(datum.value*2 - round(datum.value*2)) < 0.001 ? replace(format(datum.value, '.1f'), '\u2212', '-') : ''", "labelOverlap": false, "labelFlush": false, "title": "DSC /(mW/mg)", "titleAngle": 0, "titleAlign": "left", "titleBaseline": "middle", "titleX": -62, "titleY": -31}},
   "y2": {"field": "b"},
   "detail": {"field": "g"}
  }},
 {"data": {"name": "area"},
  "transform": [{"filter": "datum.r == 'R' && datum.g == 'A2'"}],
  "mark": {"type": "area", "stroke": "#e8202a", "strokeWidth": 0.8,
   "fill": {"gradient": "linear", "x1": 0, "y1": 1, "x2": 1.998, "y2": 0.238, "stops": [
    {"offset":0,"color":"#e8202a"},{"offset":0.009,"color":"#e8202a"},{"offset":0.009,"color":"transparent"},{"offset":0.05,"color":"transparent"},
    {"offset":0.05,"color":"#e8202a"},{"offset":0.059,"color":"#e8202a"},{"offset":0.059,"color":"transparent"},{"offset":0.1,"color":"transparent"},
    {"offset":0.1,"color":"#e8202a"},{"offset":0.109,"color":"#e8202a"},{"offset":0.109,"color":"transparent"},{"offset":0.15,"color":"transparent"},
    {"offset":0.15,"color":"#e8202a"},{"offset":0.159,"color":"#e8202a"},{"offset":0.159,"color":"transparent"},{"offset":0.2,"color":"transparent"},
    {"offset":0.2,"color":"#e8202a"},{"offset":0.209,"color":"#e8202a"},{"offset":0.209,"color":"transparent"},{"offset":0.25,"color":"transparent"},
    {"offset":0.25,"color":"#e8202a"},{"offset":0.259,"color":"#e8202a"},{"offset":0.259,"color":"transparent"},{"offset":0.3,"color":"transparent"},
    {"offset":0.3,"color":"#e8202a"},{"offset":0.309,"color":"#e8202a"},{"offset":0.309,"color":"transparent"},{"offset":0.35,"color":"transparent"},
    {"offset":0.35,"color":"#e8202a"},{"offset":0.359,"color":"#e8202a"},{"offset":0.359,"color":"transparent"},{"offset":0.4,"color":"transparent"},
    {"offset":0.4,"color":"#e8202a"},{"offset":0.409,"color":"#e8202a"},{"offset":0.409,"color":"transparent"},{"offset":0.45,"color":"transparent"},
    {"offset":0.45,"color":"#e8202a"},{"offset":0.459,"color":"#e8202a"},{"offset":0.459,"color":"transparent"},{"offset":0.5,"color":"transparent"},
    {"offset":0.5,"color":"#e8202a"},{"offset":0.509,"color":"#e8202a"},{"offset":0.509,"color":"transparent"},{"offset":0.55,"color":"transparent"},
    {"offset":0.55,"color":"#e8202a"},{"offset":0.559,"color":"#e8202a"},{"offset":0.559,"color":"transparent"},{"offset":0.6,"color":"transparent"},
    {"offset":0.6,"color":"#e8202a"},{"offset":0.609,"color":"#e8202a"},{"offset":0.609,"color":"transparent"},{"offset":0.65,"color":"transparent"},
    {"offset":0.65,"color":"#e8202a"},{"offset":0.659,"color":"#e8202a"},{"offset":0.659,"color":"transparent"},{"offset":0.7,"color":"transparent"},
    {"offset":0.7,"color":"#e8202a"},{"offset":0.709,"color":"#e8202a"},{"offset":0.709,"color":"transparent"},{"offset":0.75,"color":"transparent"},
    {"offset":0.75,"color":"#e8202a"},{"offset":0.759,"color":"#e8202a"},{"offset":0.759,"color":"transparent"},{"offset":0.8,"color":"transparent"},
    {"offset":0.8,"color":"#e8202a"},{"offset":0.809,"color":"#e8202a"},{"offset":0.809,"color":"transparent"},{"offset":0.85,"color":"transparent"},
    {"offset":0.85,"color":"#e8202a"},{"offset":0.859,"color":"#e8202a"},{"offset":0.859,"color":"transparent"},{"offset":0.9,"color":"transparent"},
    {"offset":0.9,"color":"#e8202a"},{"offset":0.909,"color":"#e8202a"},{"offset":0.909,"color":"transparent"},{"offset":0.95,"color":"transparent"},
    {"offset":0.95,"color":"#e8202a"},{"offset":0.959,"color":"#e8202a"},{"offset":0.959,"color":"transparent"},{"offset":1,"color":"transparent"}
   ]}},
  "encoding": {
   "y": {"field": "v", "type": "quantitative", "scale": {"domain": [-1.204, 0.849], "nice": false, "zero": false}, "axis": null},
   "y2": {"field": "b"},
   "detail": {"field": "g"}
  }},
 {"data": {"name": "area"},
  "transform": [{"filter": "datum.r == 'R' && datum.g == 'B2'"}],
  "mark": {"type": "area", "stroke": "#e8202a", "strokeWidth": 0.8,
   "fill": {"gradient": "linear", "x1": 0, "y1": 1, "x2": 1.833, "y2": -0.78, "stops": [
    {"offset":0,"color":"#e8202a"},{"offset":0.009,"color":"#e8202a"},{"offset":0.009,"color":"transparent"},{"offset":0.05,"color":"transparent"},
    {"offset":0.05,"color":"#e8202a"},{"offset":0.059,"color":"#e8202a"},{"offset":0.059,"color":"transparent"},{"offset":0.1,"color":"transparent"},
    {"offset":0.1,"color":"#e8202a"},{"offset":0.109,"color":"#e8202a"},{"offset":0.109,"color":"transparent"},{"offset":0.15,"color":"transparent"},
    {"offset":0.15,"color":"#e8202a"},{"offset":0.159,"color":"#e8202a"},{"offset":0.159,"color":"transparent"},{"offset":0.2,"color":"transparent"},
    {"offset":0.2,"color":"#e8202a"},{"offset":0.209,"color":"#e8202a"},{"offset":0.209,"color":"transparent"},{"offset":0.25,"color":"transparent"},
    {"offset":0.25,"color":"#e8202a"},{"offset":0.259,"color":"#e8202a"},{"offset":0.259,"color":"transparent"},{"offset":0.3,"color":"transparent"},
    {"offset":0.3,"color":"#e8202a"},{"offset":0.309,"color":"#e8202a"},{"offset":0.309,"color":"transparent"},{"offset":0.35,"color":"transparent"},
    {"offset":0.35,"color":"#e8202a"},{"offset":0.359,"color":"#e8202a"},{"offset":0.359,"color":"transparent"},{"offset":0.4,"color":"transparent"},
    {"offset":0.4,"color":"#e8202a"},{"offset":0.409,"color":"#e8202a"},{"offset":0.409,"color":"transparent"},{"offset":0.45,"color":"transparent"},
    {"offset":0.45,"color":"#e8202a"},{"offset":0.459,"color":"#e8202a"},{"offset":0.459,"color":"transparent"},{"offset":0.5,"color":"transparent"},
    {"offset":0.5,"color":"#e8202a"},{"offset":0.509,"color":"#e8202a"},{"offset":0.509,"color":"transparent"},{"offset":0.55,"color":"transparent"},
    {"offset":0.55,"color":"#e8202a"},{"offset":0.559,"color":"#e8202a"},{"offset":0.559,"color":"transparent"},{"offset":0.6,"color":"transparent"},
    {"offset":0.6,"color":"#e8202a"},{"offset":0.609,"color":"#e8202a"},{"offset":0.609,"color":"transparent"},{"offset":0.65,"color":"transparent"},
    {"offset":0.65,"color":"#e8202a"},{"offset":0.659,"color":"#e8202a"},{"offset":0.659,"color":"transparent"},{"offset":0.7,"color":"transparent"},
    {"offset":0.7,"color":"#e8202a"},{"offset":0.709,"color":"#e8202a"},{"offset":0.709,"color":"transparent"},{"offset":0.75,"color":"transparent"},
    {"offset":0.75,"color":"#e8202a"},{"offset":0.759,"color":"#e8202a"},{"offset":0.759,"color":"transparent"},{"offset":0.8,"color":"transparent"},
    {"offset":0.8,"color":"#e8202a"},{"offset":0.809,"color":"#e8202a"},{"offset":0.809,"color":"transparent"},{"offset":0.85,"color":"transparent"},
    {"offset":0.85,"color":"#e8202a"},{"offset":0.859,"color":"#e8202a"},{"offset":0.859,"color":"transparent"},{"offset":0.9,"color":"transparent"},
    {"offset":0.9,"color":"#e8202a"},{"offset":0.909,"color":"#e8202a"},{"offset":0.909,"color":"transparent"},{"offset":0.95,"color":"transparent"},
    {"offset":0.95,"color":"#e8202a"},{"offset":0.959,"color":"#e8202a"},{"offset":0.959,"color":"transparent"},{"offset":1,"color":"transparent"}
   ]}},
  "encoding": {
   "y": {"field": "v", "type": "quantitative", "scale": {"domain": [-1.204, 0.849], "nice": false, "zero": false}, "axis": null},
   "y2": {"field": "b"},
   "detail": {"field": "g"}
  }},
 {"data": {"name": "area"},
  "transform": [{"filter": "datum.r == 'R' && datum.g == 'B3'"}],
  "mark": {"type": "area", "stroke": "#e8202a", "strokeWidth": 0.8,
   "fill": {"gradient": "linear", "x1": 0, "y1": 1, "x2": 0.308, "y2": -0.181, "stops": [
    {"offset":0,"color":"#e8202a"},{"offset":0.009,"color":"#e8202a"},{"offset":0.009,"color":"transparent"},{"offset":0.05,"color":"transparent"},
    {"offset":0.05,"color":"#e8202a"},{"offset":0.059,"color":"#e8202a"},{"offset":0.059,"color":"transparent"},{"offset":0.1,"color":"transparent"},
    {"offset":0.1,"color":"#e8202a"},{"offset":0.109,"color":"#e8202a"},{"offset":0.109,"color":"transparent"},{"offset":0.15,"color":"transparent"},
    {"offset":0.15,"color":"#e8202a"},{"offset":0.159,"color":"#e8202a"},{"offset":0.159,"color":"transparent"},{"offset":0.2,"color":"transparent"},
    {"offset":0.2,"color":"#e8202a"},{"offset":0.209,"color":"#e8202a"},{"offset":0.209,"color":"transparent"},{"offset":0.25,"color":"transparent"},
    {"offset":0.25,"color":"#e8202a"},{"offset":0.259,"color":"#e8202a"},{"offset":0.259,"color":"transparent"},{"offset":0.3,"color":"transparent"},
    {"offset":0.3,"color":"#e8202a"},{"offset":0.309,"color":"#e8202a"},{"offset":0.309,"color":"transparent"},{"offset":0.35,"color":"transparent"},
    {"offset":0.35,"color":"#e8202a"},{"offset":0.359,"color":"#e8202a"},{"offset":0.359,"color":"transparent"},{"offset":0.4,"color":"transparent"},
    {"offset":0.4,"color":"#e8202a"},{"offset":0.409,"color":"#e8202a"},{"offset":0.409,"color":"transparent"},{"offset":0.45,"color":"transparent"},
    {"offset":0.45,"color":"#e8202a"},{"offset":0.459,"color":"#e8202a"},{"offset":0.459,"color":"transparent"},{"offset":0.5,"color":"transparent"},
    {"offset":0.5,"color":"#e8202a"},{"offset":0.509,"color":"#e8202a"},{"offset":0.509,"color":"transparent"},{"offset":0.55,"color":"transparent"},
    {"offset":0.55,"color":"#e8202a"},{"offset":0.559,"color":"#e8202a"},{"offset":0.559,"color":"transparent"},{"offset":0.6,"color":"transparent"},
    {"offset":0.6,"color":"#e8202a"},{"offset":0.609,"color":"#e8202a"},{"offset":0.609,"color":"transparent"},{"offset":0.65,"color":"transparent"},
    {"offset":0.65,"color":"#e8202a"},{"offset":0.659,"color":"#e8202a"},{"offset":0.659,"color":"transparent"},{"offset":0.7,"color":"transparent"},
    {"offset":0.7,"color":"#e8202a"},{"offset":0.709,"color":"#e8202a"},{"offset":0.709,"color":"transparent"},{"offset":0.75,"color":"transparent"},
    {"offset":0.75,"color":"#e8202a"},{"offset":0.759,"color":"#e8202a"},{"offset":0.759,"color":"transparent"},{"offset":0.8,"color":"transparent"},
    {"offset":0.8,"color":"#e8202a"},{"offset":0.809,"color":"#e8202a"},{"offset":0.809,"color":"transparent"},{"offset":0.85,"color":"transparent"},
    {"offset":0.85,"color":"#e8202a"},{"offset":0.859,"color":"#e8202a"},{"offset":0.859,"color":"transparent"},{"offset":0.9,"color":"transparent"},
    {"offset":0.9,"color":"#e8202a"},{"offset":0.909,"color":"#e8202a"},{"offset":0.909,"color":"transparent"},{"offset":0.95,"color":"transparent"},
    {"offset":0.95,"color":"#e8202a"},{"offset":0.959,"color":"#e8202a"},{"offset":0.959,"color":"transparent"},{"offset":1,"color":"transparent"}
   ]}},
  "encoding": {
   "y": {"field": "v", "type": "quantitative", "scale": {"domain": [-1.204, 0.849], "nice": false, "zero": false}, "axis": null},
   "y2": {"field": "b"},
   "detail": {"field": "g"}
  }},
 {"data": {"name": "area"},
  "transform": [{"filter": "datum.r == 'B' && (datum.g == 'A1' || datum.g == 'A3')"}],
  "mark": {"type": "area", "stroke": "#111111", "strokeWidth": 0.8,
   "fill": {"gradient": "linear", "x1": 0, "y1": 0, "x2": 0.613, "y2": 1.06, "stops": [
    {"offset":0,"color":"#1a1a1a"},{"offset":0.009,"color":"#1a1a1a"},{"offset":0.009,"color":"transparent"},{"offset":0.05,"color":"transparent"},
    {"offset":0.05,"color":"#1a1a1a"},{"offset":0.059,"color":"#1a1a1a"},{"offset":0.059,"color":"transparent"},{"offset":0.1,"color":"transparent"},
    {"offset":0.1,"color":"#1a1a1a"},{"offset":0.109,"color":"#1a1a1a"},{"offset":0.109,"color":"transparent"},{"offset":0.15,"color":"transparent"},
    {"offset":0.15,"color":"#1a1a1a"},{"offset":0.159,"color":"#1a1a1a"},{"offset":0.159,"color":"transparent"},{"offset":0.2,"color":"transparent"},
    {"offset":0.2,"color":"#1a1a1a"},{"offset":0.209,"color":"#1a1a1a"},{"offset":0.209,"color":"transparent"},{"offset":0.25,"color":"transparent"},
    {"offset":0.25,"color":"#1a1a1a"},{"offset":0.259,"color":"#1a1a1a"},{"offset":0.259,"color":"transparent"},{"offset":0.3,"color":"transparent"},
    {"offset":0.3,"color":"#1a1a1a"},{"offset":0.309,"color":"#1a1a1a"},{"offset":0.309,"color":"transparent"},{"offset":0.35,"color":"transparent"},
    {"offset":0.35,"color":"#1a1a1a"},{"offset":0.359,"color":"#1a1a1a"},{"offset":0.359,"color":"transparent"},{"offset":0.4,"color":"transparent"},
    {"offset":0.4,"color":"#1a1a1a"},{"offset":0.409,"color":"#1a1a1a"},{"offset":0.409,"color":"transparent"},{"offset":0.45,"color":"transparent"},
    {"offset":0.45,"color":"#1a1a1a"},{"offset":0.459,"color":"#1a1a1a"},{"offset":0.459,"color":"transparent"},{"offset":0.5,"color":"transparent"},
    {"offset":0.5,"color":"#1a1a1a"},{"offset":0.509,"color":"#1a1a1a"},{"offset":0.509,"color":"transparent"},{"offset":0.55,"color":"transparent"},
    {"offset":0.55,"color":"#1a1a1a"},{"offset":0.559,"color":"#1a1a1a"},{"offset":0.559,"color":"transparent"},{"offset":0.6,"color":"transparent"},
    {"offset":0.6,"color":"#1a1a1a"},{"offset":0.609,"color":"#1a1a1a"},{"offset":0.609,"color":"transparent"},{"offset":0.65,"color":"transparent"},
    {"offset":0.65,"color":"#1a1a1a"},{"offset":0.659,"color":"#1a1a1a"},{"offset":0.659,"color":"transparent"},{"offset":0.7,"color":"transparent"},
    {"offset":0.7,"color":"#1a1a1a"},{"offset":0.709,"color":"#1a1a1a"},{"offset":0.709,"color":"transparent"},{"offset":0.75,"color":"transparent"},
    {"offset":0.75,"color":"#1a1a1a"},{"offset":0.759,"color":"#1a1a1a"},{"offset":0.759,"color":"transparent"},{"offset":0.8,"color":"transparent"},
    {"offset":0.8,"color":"#1a1a1a"},{"offset":0.809,"color":"#1a1a1a"},{"offset":0.809,"color":"transparent"},{"offset":0.85,"color":"transparent"},
    {"offset":0.85,"color":"#1a1a1a"},{"offset":0.859,"color":"#1a1a1a"},{"offset":0.859,"color":"transparent"},{"offset":0.9,"color":"transparent"},
    {"offset":0.9,"color":"#1a1a1a"},{"offset":0.909,"color":"#1a1a1a"},{"offset":0.909,"color":"transparent"},{"offset":0.95,"color":"transparent"},
    {"offset":0.95,"color":"#1a1a1a"},{"offset":0.959,"color":"#1a1a1a"},{"offset":0.959,"color":"transparent"},{"offset":1,"color":"transparent"}
   ]}},
  "encoding": {
   "y": {"field": "v", "type": "quantitative", "scale": {"domain": [-1.204, 0.849], "nice": false, "zero": false}, "axis": null},
   "y2": {"field": "b"},
   "detail": {"field": "g"}
  }},
 {"data": {"name": "area"},
  "transform": [{"filter": "datum.r == 'B' && (datum.g == 'B1' || datum.g == 'B3')"}],
  "mark": {"type": "area", "stroke": "#111111", "strokeWidth": 0.8,
   "fill": {"gradient": "linear", "x1": 0, "y1": 0, "x2": 0.298, "y2": 1.161, "stops": [
    {"offset":0,"color":"#1a1a1a"},{"offset":0.009,"color":"#1a1a1a"},{"offset":0.009,"color":"transparent"},{"offset":0.05,"color":"transparent"},
    {"offset":0.05,"color":"#1a1a1a"},{"offset":0.059,"color":"#1a1a1a"},{"offset":0.059,"color":"transparent"},{"offset":0.1,"color":"transparent"},
    {"offset":0.1,"color":"#1a1a1a"},{"offset":0.109,"color":"#1a1a1a"},{"offset":0.109,"color":"transparent"},{"offset":0.15,"color":"transparent"},
    {"offset":0.15,"color":"#1a1a1a"},{"offset":0.159,"color":"#1a1a1a"},{"offset":0.159,"color":"transparent"},{"offset":0.2,"color":"transparent"},
    {"offset":0.2,"color":"#1a1a1a"},{"offset":0.209,"color":"#1a1a1a"},{"offset":0.209,"color":"transparent"},{"offset":0.25,"color":"transparent"},
    {"offset":0.25,"color":"#1a1a1a"},{"offset":0.259,"color":"#1a1a1a"},{"offset":0.259,"color":"transparent"},{"offset":0.3,"color":"transparent"},
    {"offset":0.3,"color":"#1a1a1a"},{"offset":0.309,"color":"#1a1a1a"},{"offset":0.309,"color":"transparent"},{"offset":0.35,"color":"transparent"},
    {"offset":0.35,"color":"#1a1a1a"},{"offset":0.359,"color":"#1a1a1a"},{"offset":0.359,"color":"transparent"},{"offset":0.4,"color":"transparent"},
    {"offset":0.4,"color":"#1a1a1a"},{"offset":0.409,"color":"#1a1a1a"},{"offset":0.409,"color":"transparent"},{"offset":0.45,"color":"transparent"},
    {"offset":0.45,"color":"#1a1a1a"},{"offset":0.459,"color":"#1a1a1a"},{"offset":0.459,"color":"transparent"},{"offset":0.5,"color":"transparent"},
    {"offset":0.5,"color":"#1a1a1a"},{"offset":0.509,"color":"#1a1a1a"},{"offset":0.509,"color":"transparent"},{"offset":0.55,"color":"transparent"},
    {"offset":0.55,"color":"#1a1a1a"},{"offset":0.559,"color":"#1a1a1a"},{"offset":0.559,"color":"transparent"},{"offset":0.6,"color":"transparent"},
    {"offset":0.6,"color":"#1a1a1a"},{"offset":0.609,"color":"#1a1a1a"},{"offset":0.609,"color":"transparent"},{"offset":0.65,"color":"transparent"},
    {"offset":0.65,"color":"#1a1a1a"},{"offset":0.659,"color":"#1a1a1a"},{"offset":0.659,"color":"transparent"},{"offset":0.7,"color":"transparent"},
    {"offset":0.7,"color":"#1a1a1a"},{"offset":0.709,"color":"#1a1a1a"},{"offset":0.709,"color":"transparent"},{"offset":0.75,"color":"transparent"},
    {"offset":0.75,"color":"#1a1a1a"},{"offset":0.759,"color":"#1a1a1a"},{"offset":0.759,"color":"transparent"},{"offset":0.8,"color":"transparent"},
    {"offset":0.8,"color":"#1a1a1a"},{"offset":0.809,"color":"#1a1a1a"},{"offset":0.809,"color":"transparent"},{"offset":0.85,"color":"transparent"},
    {"offset":0.85,"color":"#1a1a1a"},{"offset":0.859,"color":"#1a1a1a"},{"offset":0.859,"color":"transparent"},{"offset":0.9,"color":"transparent"},
    {"offset":0.9,"color":"#1a1a1a"},{"offset":0.909,"color":"#1a1a1a"},{"offset":0.909,"color":"transparent"},{"offset":0.95,"color":"transparent"},
    {"offset":0.95,"color":"#1a1a1a"},{"offset":0.959,"color":"#1a1a1a"},{"offset":0.959,"color":"transparent"},{"offset":1,"color":"transparent"}
   ]}},
  "encoding": {
   "y": {"field": "v", "type": "quantitative", "scale": {"domain": [-1.204, 0.849], "nice": false, "zero": false}, "axis": null},
   "y2": {"field": "b"},
   "detail": {"field": "g"}
  }},
 {"data": {"name": "area"},
  "transform": [{"filter": "datum.r == 'B' && datum.g == 'A2'"}],
  "mark": {"type": "area", "stroke": "#111111", "strokeWidth": 0.8, "fillOpacity": 0.6,
   "fill": {"gradient": "linear", "x1": 0, "y1": 0, "x2": 2.232, "y2": 0.995, "stops": [
    {"offset":0,"color":"#1a1a1a"},{"offset":0.009,"color":"#1a1a1a"},{"offset":0.009,"color":"transparent"},{"offset":0.05,"color":"transparent"},
    {"offset":0.05,"color":"#1a1a1a"},{"offset":0.059,"color":"#1a1a1a"},{"offset":0.059,"color":"transparent"},{"offset":0.1,"color":"transparent"},
    {"offset":0.1,"color":"#1a1a1a"},{"offset":0.109,"color":"#1a1a1a"},{"offset":0.109,"color":"transparent"},{"offset":0.15,"color":"transparent"},
    {"offset":0.15,"color":"#1a1a1a"},{"offset":0.159,"color":"#1a1a1a"},{"offset":0.159,"color":"transparent"},{"offset":0.2,"color":"transparent"},
    {"offset":0.2,"color":"#1a1a1a"},{"offset":0.209,"color":"#1a1a1a"},{"offset":0.209,"color":"transparent"},{"offset":0.25,"color":"transparent"},
    {"offset":0.25,"color":"#1a1a1a"},{"offset":0.259,"color":"#1a1a1a"},{"offset":0.259,"color":"transparent"},{"offset":0.3,"color":"transparent"},
    {"offset":0.3,"color":"#1a1a1a"},{"offset":0.309,"color":"#1a1a1a"},{"offset":0.309,"color":"transparent"},{"offset":0.35,"color":"transparent"},
    {"offset":0.35,"color":"#1a1a1a"},{"offset":0.359,"color":"#1a1a1a"},{"offset":0.359,"color":"transparent"},{"offset":0.4,"color":"transparent"},
    {"offset":0.4,"color":"#1a1a1a"},{"offset":0.409,"color":"#1a1a1a"},{"offset":0.409,"color":"transparent"},{"offset":0.45,"color":"transparent"},
    {"offset":0.45,"color":"#1a1a1a"},{"offset":0.459,"color":"#1a1a1a"},{"offset":0.459,"color":"transparent"},{"offset":0.5,"color":"transparent"},
    {"offset":0.5,"color":"#1a1a1a"},{"offset":0.509,"color":"#1a1a1a"},{"offset":0.509,"color":"transparent"},{"offset":0.55,"color":"transparent"},
    {"offset":0.55,"color":"#1a1a1a"},{"offset":0.559,"color":"#1a1a1a"},{"offset":0.559,"color":"transparent"},{"offset":0.6,"color":"transparent"},
    {"offset":0.6,"color":"#1a1a1a"},{"offset":0.609,"color":"#1a1a1a"},{"offset":0.609,"color":"transparent"},{"offset":0.65,"color":"transparent"},
    {"offset":0.65,"color":"#1a1a1a"},{"offset":0.659,"color":"#1a1a1a"},{"offset":0.659,"color":"transparent"},{"offset":0.7,"color":"transparent"},
    {"offset":0.7,"color":"#1a1a1a"},{"offset":0.709,"color":"#1a1a1a"},{"offset":0.709,"color":"transparent"},{"offset":0.75,"color":"transparent"},
    {"offset":0.75,"color":"#1a1a1a"},{"offset":0.759,"color":"#1a1a1a"},{"offset":0.759,"color":"transparent"},{"offset":0.8,"color":"transparent"},
    {"offset":0.8,"color":"#1a1a1a"},{"offset":0.809,"color":"#1a1a1a"},{"offset":0.809,"color":"transparent"},{"offset":0.85,"color":"transparent"},
    {"offset":0.85,"color":"#1a1a1a"},{"offset":0.859,"color":"#1a1a1a"},{"offset":0.859,"color":"transparent"},{"offset":0.9,"color":"transparent"},
    {"offset":0.9,"color":"#1a1a1a"},{"offset":0.909,"color":"#1a1a1a"},{"offset":0.909,"color":"transparent"},{"offset":0.95,"color":"transparent"},
    {"offset":0.95,"color":"#1a1a1a"},{"offset":0.959,"color":"#1a1a1a"},{"offset":0.959,"color":"transparent"},{"offset":1,"color":"transparent"}
   ]}},
  "encoding": {
   "y": {"field": "v", "type": "quantitative", "scale": {"domain": [-1.204, 0.849], "nice": false, "zero": false}, "axis": null},
   "y2": {"field": "b"},
   "detail": {"field": "g"}
  }},
 {"data": {"name": "area"},
  "transform": [{"filter": "datum.r == 'B' && datum.g == 'B2'"}],
  "mark": {"type": "area", "stroke": "#111111", "strokeWidth": 0.8,
   "fill": {"gradient": "linear", "x1": 0, "y1": 0, "x2": 0, "y2": 1, "stops": [
    {"offset": 0, "color": "transparent"}, {"offset": 0.21, "color": "transparent"}, {"offset": 0.21, "color": "#1a1a1a"}, {"offset": 0.25, "color": "#1a1a1a"},
    {"offset": 0.25, "color": "transparent"}, {"offset": 0.46, "color": "transparent"}, {"offset": 0.46, "color": "#1a1a1a"}, {"offset": 0.5, "color": "#1a1a1a"},
    {"offset": 0.5, "color": "transparent"}, {"offset": 0.71, "color": "transparent"}, {"offset": 0.71, "color": "#1a1a1a"}, {"offset": 0.75, "color": "#1a1a1a"},
    {"offset": 0.75, "color": "transparent"}, {"offset": 1, "color": "transparent"}
   ]}},
  "encoding": {
   "y": {"field": "v", "type": "quantitative", "scale": {"domain": [-1.204, 0.849], "nice": false, "zero": false}, "axis": null},
   "y2": {"field": "b"},
   "detail": {"field": "g"}
  }},
 {"data": {"name": "curve"},
  "transform": [{"filter": "datum.r == 'R'"}],
  "mark": {"type": "line", "strokeWidth": 2, "color": "#e8202a"},
  "encoding": {
   "y": {"field": "v", "type": "quantitative", "scale": {"domain": [-1.204, 0.849], "nice": false, "zero": false}, "axis": null},
   "order": {"field": "i", "type": "quantitative"}
  }},
 {"data": {"name": "curve"},
  "transform": [{"filter": "datum.r == 'B'"}],
  "mark": {"type": "line", "strokeWidth": 2, "color": "#111111"},
  "encoding": {
   "y": {"field": "v", "type": "quantitative", "scale": {"domain": [-1.204, 0.849], "nice": false, "zero": false}, "axis": null},
   "order": {"field": "i", "type": "quantitative"}
  }},
 {"data": {"name": "ticks"},
  "transform": [{"filter": "datum.k == 'm'"}],
  "mark": {"type": "tick", "orient": "vertical", "size": 11, "thickness": 1.2, "color": "#333333"},
  "encoding": {
   "y": {"field": "v", "type": "quantitative", "scale": {"domain": [-1.204, 0.849], "nice": false, "zero": false}, "axis": null}
  }},
 {"data": {"name": "ticks"},
  "transform": [{"filter": "datum.k == 'g'"}],
  "mark": {"type": "tick", "orient": "vertical", "size": 11, "thickness": 3, "color": "#777777"},
  "encoding": {
   "y": {"field": "v", "type": "quantitative", "scale": {"domain": [-1.204, 0.849], "nice": false, "zero": false}, "axis": null}
  }},
 {"data": {"name": "leaders"},
  "mark": {"type": "rule", "strokeWidth": 1},
  "encoding": {
   "y": {"field": "v", "type": "quantitative", "scale": {"domain": [-1.204, 0.849], "nice": false, "zero": false}, "axis": null},
   "x2": {"field": "t2"},
   "y2": {"field": "v2"},
   "color": {"field": "r", "type": "nominal", "scale": {"domain": ["B","R","M"], "range": ["#222222","#e8202a","#cc33cc"]}, "legend": null}
  }},
 {"data": {"name": "labels"},
  "mark": {"type": "text", "fontSize": 13, "font": "Liberation Sans"},
  "encoding": {
   "y": {"field": "v", "type": "quantitative", "scale": {"domain": [-1.204, 0.849], "nice": false, "zero": false}, "axis": null},
   "text": {"field": "label"},
   "color": {"field": "r", "type": "nominal", "scale": {"domain": ["B","R","M"], "range": ["#222222","#e8202a","#cc33cc"]}, "legend": null}
  }},
 {"data": {"name": "tags"},
  "mark": {"type": "text", "fontSize": 10, "font": "Liberation Sans"},
  "encoding": {
   "y": {"field": "v", "type": "quantitative", "scale": {"domain": [-1.204, 0.849], "nice": false, "zero": false}, "axis": null},
   "text": {"field": "label"},
   "color": {"field": "r", "type": "nominal", "scale": {"domain": ["B","R","M"], "range": ["#222222","#e8202a","#cc33cc"]}, "legend": null}
  }},
 {"data": {"values": [{"t": 31.7, "v": 0.8225, "label": "↓ exo"}]},
  "mark": {"type": "text", "fontSize": 17, "font": "Liberation Sans", "color": "#111111"},
  "encoding": {
   "y": {"field": "v", "type": "quantitative", "scale": {"domain": [-1.204, 0.849], "nice": false, "zero": false}, "axis": null},
   "text": {"field": "label"}
  }}
],
"resolve": {"scale": {"y": "independent"}}
}
